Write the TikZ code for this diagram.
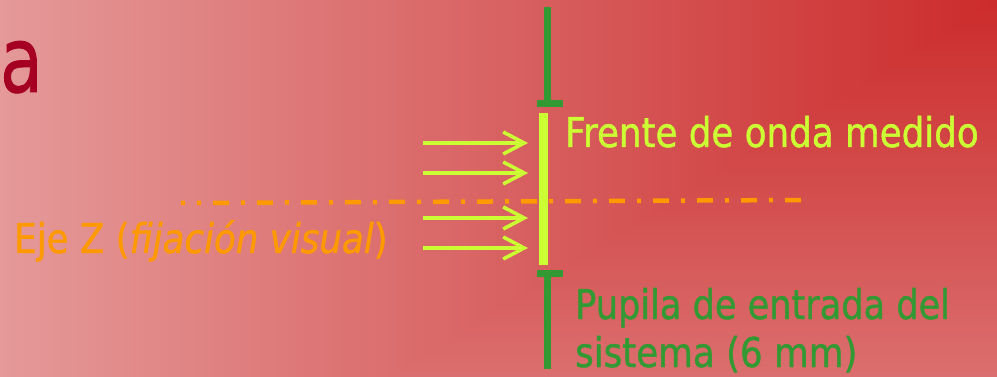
\documentclass[tikz,border=0pt]{standalone}
\usepackage{fontspec}
\setmainfont{DejaVu Sans}[FakeStretch=0.87,FakeBold=1]
\usetikzlibrary{arrows.meta}
\definecolor{lgreen}{RGB}{204,255,51}
\definecolor{dgreen}{RGB}{51,153,51}
\definecolor{zorange}{RGB}{255,153,0}
\definecolor{dred}{RGB}{165,0,33}
\tikzset{
  txt/.style={anchor=base west,inner sep=0pt,font=\fontsize{41}{48}\selectfont},
  ray/.style={lgreen,line width=3.5pt,-{Straight Barb[length=21pt,width=22pt,line width=3.5pt]}},
  stop/.style={fill=dgreen,draw=none},
}
\begin{document}
\begin{tikzpicture}[x=1pt,y=-1pt]
\useasboundingbox (0,0) rectangle (997,377);
\begin{scope}
\clip (0,0) rectangle (997,377);
\foreach \g in {110,109,...,0} {
  \pgfmathsetmacro\gg{(43+\g)/255}
  \pgfmathsetmacro\rr{(204+\g*25/110)/255}
  \definecolor{bgc}{rgb}{\rr,\gg,\gg}
  \fill[bgc] ({997-\g/0.11-1},-1) rectangle (998,{\g/0.178+1});
}
\end{scope}
% title fragment
\node[txt,font=\fontsize{91}{100}\selectfont,text=dred,xscale=0.88] (title) at (0,92) {a};
% optical axis
\coordinate (axL) at (181,203);
\coordinate (axR) at (801,200);
\draw[zorange,line width=4.5pt,dash pattern=on 16pt off 12pt on 4pt off 12pt,dash phase=12pt] (axL) -- (axR);
% pupil stops
\fill[stop] (544,7) rectangle (551,100);
\fill[stop] (537,100) rectangle (563,107);
\fill[stop] (537,270) rectangle (563,277);
\fill[stop] (544,277) rectangle (551,369);
% wavefront bar
\fill[lgreen] (539,113) rectangle (548,265);
% rays
\foreach \y [count=\i] in {143,173,218,248} {
  \coordinate (s\i) at (423,\y);
  \coordinate (e\i) at (528,\y);
  \draw[ray] (s\i) -- (e\i);
}
% labels
\node[txt,text=lgreen] (frente) at (565,147) {Frente de onda medido};
\node[txt,text=zorange] (eje) at (14,253) {Eje Z (\textit{fijación visual})};
\node[txt,text=dgreen,xscale=0.985] (pup1) at (575,319) {Pupila de entrada del};
\node[txt,text=dgreen] (pup2) at (575,367) {sistema (6 mm)};
\end{tikzpicture}
\end{document}
